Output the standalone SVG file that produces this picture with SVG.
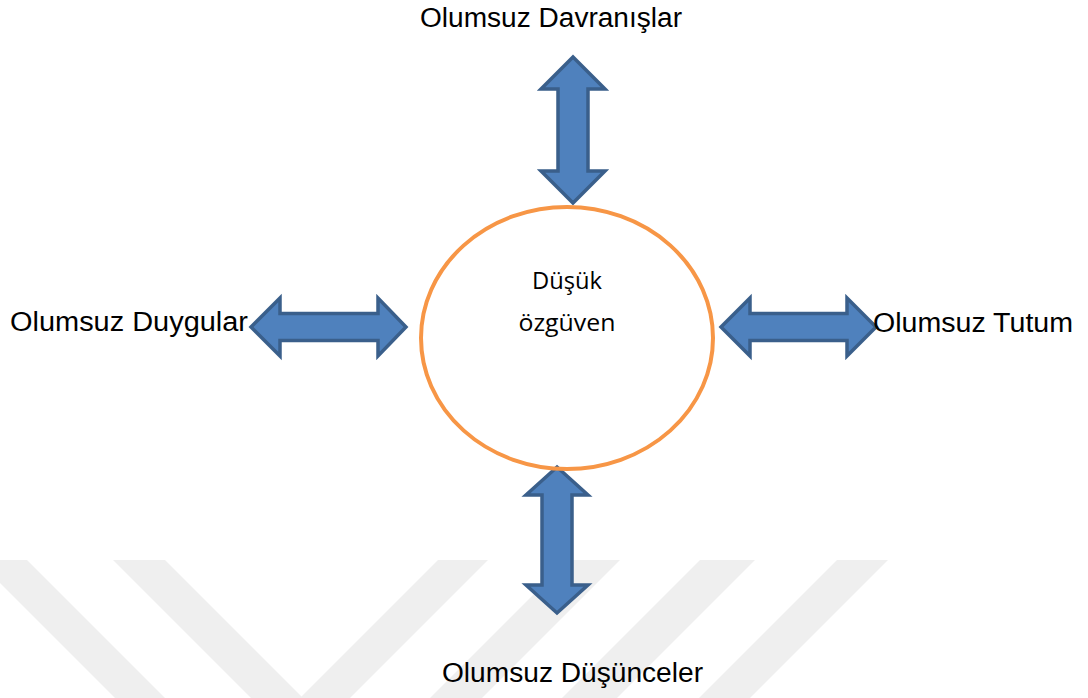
<svg xmlns="http://www.w3.org/2000/svg" width="1088" height="698" viewBox="0 0 1088 698">
<style>
.lbl{font-family:"Liberation Sans",Arial,sans-serif;font-size:27px;fill:#000}
.ctr{font-family:"Open Sans","Noto Sans",sans-serif;font-size:24px;fill:#000}
.arr{fill:#4F81BD;stroke:#3A5F8B;stroke-width:3.5;stroke-linejoin:miter}
.wm{fill:#efefef}
</style>
<rect width="1088" height="698" fill="#fff"/>
<g id="watermark">
<polygon class="wm" points="-23,560 27,560 165,698 115,698"/>
<polygon class="wm" points="113,560 165,560 303,698 251,698"/>
<polygon class="wm" points="438,560 488,560 350,698 300,698"/>
<polygon class="wm" points="568,560 620,560 482,698 430,698"/>
<polygon class="wm" points="700,560 755,560 617,698 562,698"/>
<polygon class="wm" points="837,560 888,560 750,698 699,698"/>
</g>
<g id="connectors">
<polygon class="arr" points="573,57 605,89 588,89 588,171 605,171 573,203 541,171 558,171 558,89 541,89"/>
<polygon class="arr" points="251,327 280,298 280,313.5 378,313.5 378,298 406,327 378,356 378,340.5 280,340.5 280,356"/>
<polygon class="arr" points="721,327 750,298 750,313.5 847,313.5 847,298 876,327 847,356 847,340.5 750,340.5 750,356"/>
<polygon class="arr" points="557,467 588,495 572,495 572,585 588,585 557,613 526,585 542,585 542,495 526,495"/>
</g>
<g id="center">
<ellipse cx="567" cy="338" rx="146" ry="131" fill="none" stroke="#F79646" stroke-width="4"/>
<text class="ctr" x="567" y="289" text-anchor="middle" textLength="70" lengthAdjust="spacingAndGlyphs">Düşük</text>
<text class="ctr" x="567" y="331" text-anchor="middle" textLength="97" lengthAdjust="spacingAndGlyphs">özgüven</text>
</g>
<g id="top">
<text class="lbl" x="420" y="27" textLength="262" lengthAdjust="spacingAndGlyphs">Olumsuz Davranışlar</text>
</g>
<g id="left">
<text class="lbl" x="10" y="331" textLength="238" lengthAdjust="spacingAndGlyphs">Olumsuz Duygular</text>
</g>
<g id="right">
<text class="lbl" x="873" y="332" textLength="200" lengthAdjust="spacingAndGlyphs">Olumsuz Tutum</text>
</g>
<g id="bottom">
<text class="lbl" x="442" y="682" textLength="261" lengthAdjust="spacingAndGlyphs">Olumsuz Düşünceler</text>
</g>
</svg>
